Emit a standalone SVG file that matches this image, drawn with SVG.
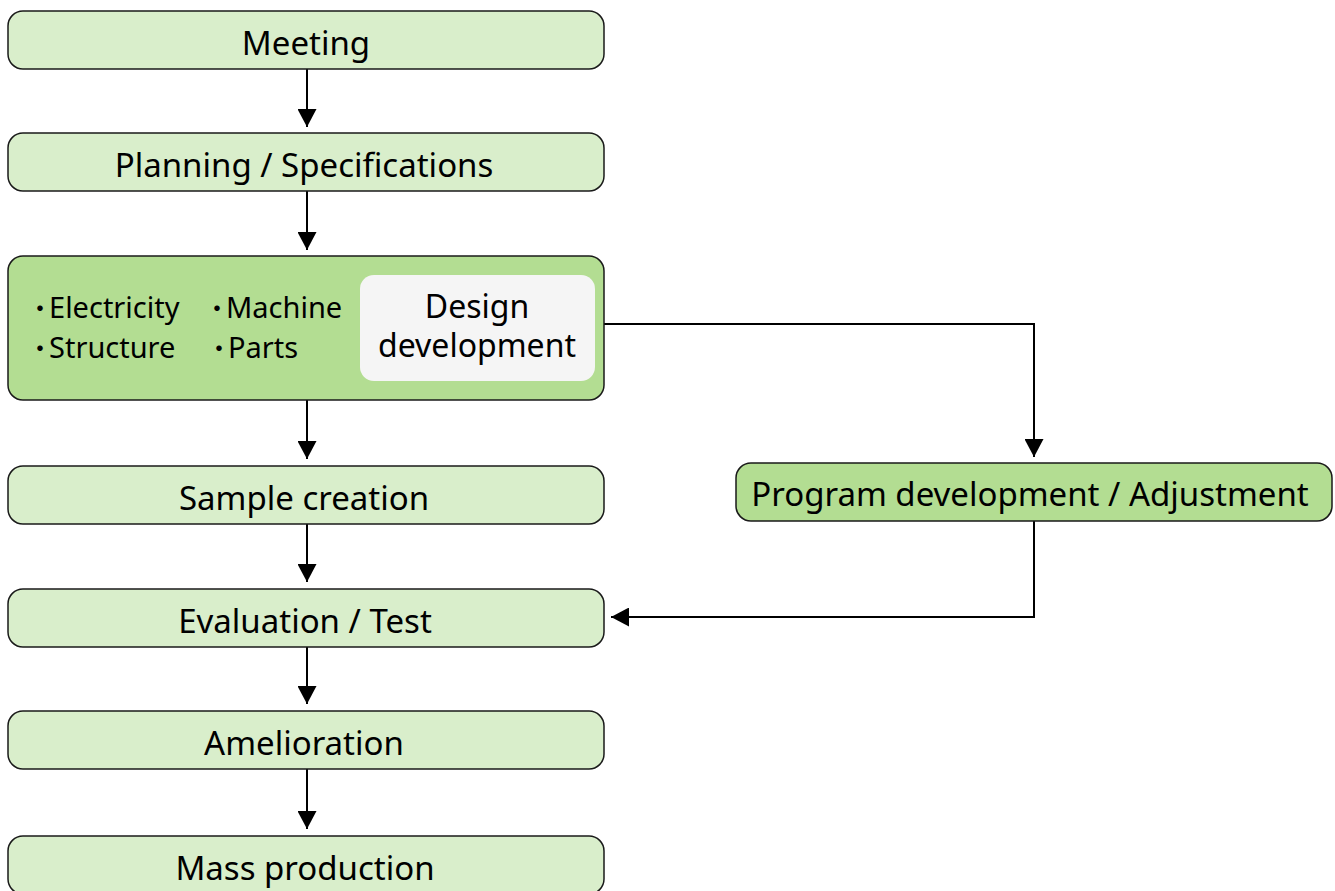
<svg xmlns="http://www.w3.org/2000/svg" width="1335" height="891" viewBox="0 0 1335 891">
<style>
.box{fill:#d9eecb;stroke:#1a1a1a;stroke-width:1.5}
.dark{fill:#b3dd92;stroke:#1a1a1a;stroke-width:1.5}
.inner{fill:#f5f5f5;stroke:none}
.t{font-family:"Noto Sans","Noto Sans CJK JP",sans-serif;font-size:33px;fill:#000;text-anchor:middle}
.d{font-family:"Noto Sans","Noto Sans CJK JP",sans-serif;font-size:32px;fill:#000;text-anchor:middle}
.b{font-family:"Noto Sans","Noto Sans CJK JP",sans-serif;font-size:29px;fill:#000}
.dot{font-size:26px;letter-spacing:-4px}
.c{fill:none;stroke:#000;stroke-width:2}
</style>
<defs>
<marker id="ah" viewBox="0 0 18 19" refX="18" refY="9.5" markerWidth="18" markerHeight="19" markerUnits="userSpaceOnUse" orient="auto">
<path d="M0,0 L18,9.5 L0,19 z" fill="#000"/>
</marker>
</defs>
<rect width="1335" height="891" fill="#fff"/>
<g id="connectors">
<line class="c" x1="307" y1="69" x2="307" y2="127" marker-end="url(#ah)"/>
<line class="c" x1="307" y1="191" x2="307" y2="250" marker-end="url(#ah)"/>
<line class="c" x1="307" y1="400" x2="307" y2="459" marker-end="url(#ah)"/>
<line class="c" x1="307" y1="524" x2="307" y2="582" marker-end="url(#ah)"/>
<line class="c" x1="307" y1="647" x2="307" y2="704" marker-end="url(#ah)"/>
<line class="c" x1="307" y1="769" x2="307" y2="829" marker-end="url(#ah)"/>
<path class="c" d="M604,324 H1034 V457" marker-end="url(#ah)"/>
<path class="c" d="M1034,521 V617 H611" marker-end="url(#ah)"/>
</g>
<g id="meeting">
<rect class="box" x="8" y="11" width="596" height="58" rx="15"/>
<text class="t" x="306" y="55">Meeting</text>
</g>
<g id="planning">
<rect class="box" x="8" y="133" width="596" height="58" rx="15"/>
<text class="t" x="304" y="177">Planning / Specifications</text>
</g>
<g id="design">
<rect class="dark" x="8" y="256" width="596" height="144" rx="15"/>
<rect class="inner" x="360" y="275" width="235" height="106" rx="14"/>
<text class="b" x="27" y="318"><tspan class="dot">・</tspan>Electricity</text>
<text class="b" x="204" y="318"><tspan class="dot">・</tspan>Machine</text>
<text class="b" x="27" y="358"><tspan class="dot">・</tspan>Structure</text>
<text class="b" x="206" y="358"><tspan class="dot">・</tspan>Parts</text>
<text class="d" x="477" y="318">Design</text>
<text class="d" x="477" y="357">development</text>
</g>
<g id="sample">
<rect class="box" x="8" y="466" width="596" height="58" rx="15"/>
<text class="t" x="304" y="510">Sample creation</text>
</g>
<g id="program">
<rect class="dark" x="736" y="463" width="596" height="58" rx="15"/>
<text class="t" x="1030" y="506">Program development / Adjustment</text>
</g>
<g id="evaluation">
<rect class="box" x="8" y="589" width="596" height="58" rx="15"/>
<text class="t" x="305" y="633">Evaluation / Test</text>
</g>
<g id="amelioration">
<rect class="box" x="8" y="711" width="596" height="58" rx="15"/>
<text class="t" x="304" y="755">Amelioration</text>
</g>
<g id="mass">
<rect class="box" x="8" y="836" width="596" height="58" rx="15"/>
<text class="t" x="305" y="880">Mass production</text>
</g>
</svg>
